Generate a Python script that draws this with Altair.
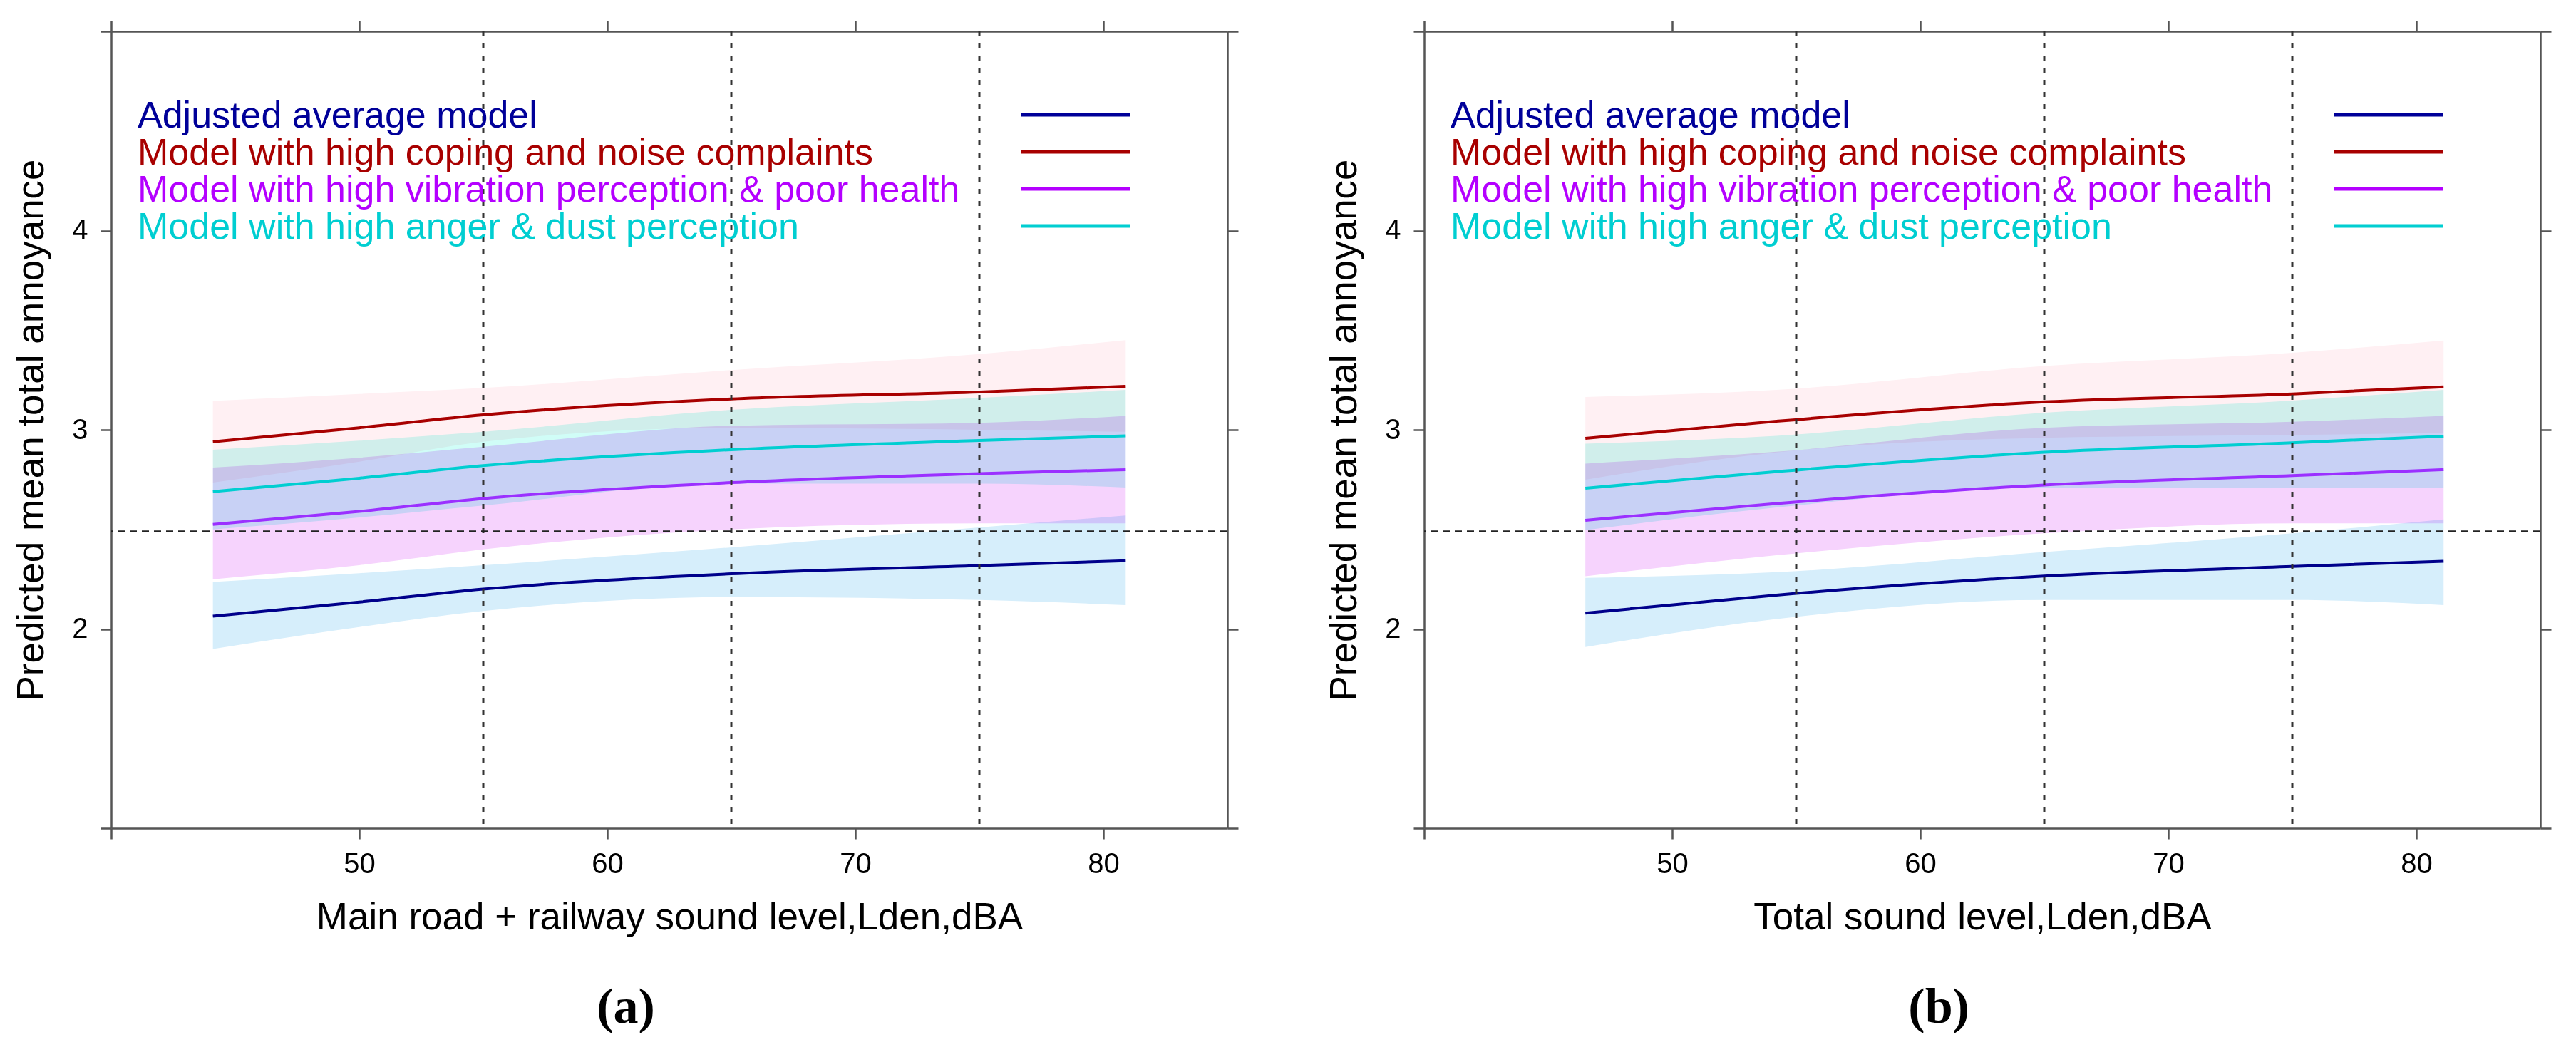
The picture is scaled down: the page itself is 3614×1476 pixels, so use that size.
import altair as alt
import pandas as pd

# ---------------- data ----------------
series = [
    "Adjusted average model",
    "Model with high coping and noise complaints",
    "Model with high vibration perception & poor health",
    "Model with high anger & dust perception",
]

# panel (a): main road + railway sound level
xa = [44.1, 50, 55, 65, 75, 80.9]
adj_fit_a = [2.064, 2.135, 2.20, 2.277, 2.318, 2.343]
adj_lo_a = [1.90, 2.01, 2.09, 2.16, 2.146, 2.12]
adj_hi_a = [2.236, 2.28, 2.32, 2.41, 2.51, 2.57]
cop_fit_a = [2.94, 3.01, 3.075, 3.155, 3.19, 3.218]
cop_lo_a = [2.735, 2.84, 2.94, 3.01, 3.00, 2.99]
cop_hi_a = [3.145, 3.18, 3.21, 3.30, 3.38, 3.45]
vib_fit_a = [2.525, 2.59, 2.655, 2.735, 2.78, 2.80]
vib_lo_a = [2.25, 2.32, 2.40, 2.50, 2.53, 2.53]
vib_hi_a = [2.81, 2.86, 2.915, 3.02, 3.035, 3.07]
ang_fit_a = [2.69, 2.757, 2.82, 2.90, 2.946, 2.97]
ang_lo_a = [2.50, 2.56, 2.62, 2.73, 2.73, 2.71]
ang_hi_a = [2.90, 2.945, 2.99, 3.10, 3.16, 3.20]

# panel (b): total sound level
xb = [46.5, 54.2, 65, 75, 81.1]
adj_fit_b = [2.08, 2.17, 2.266, 2.314, 2.34]
adj_lo_b = [1.91, 2.05, 2.146, 2.146, 2.12]
adj_hi_b = [2.257, 2.285, 2.386, 2.48, 2.55]
cop_fit_b = [2.957, 3.043, 3.14, 3.18, 3.216]
cop_lo_b = [2.75, 2.886, 2.96, 2.974, 2.984]
cop_hi_b = [3.165, 3.20, 3.32, 3.386, 3.448]
vib_fit_b = [2.546, 2.63, 2.723, 2.77, 2.80]
vib_lo_b = [2.265, 2.37, 2.48, 2.53, 2.53]
vib_hi_b = [2.83, 2.89, 3.01, 3.04, 3.07]
ang_fit_b = [2.707, 2.79, 2.887, 2.935, 2.968]
ang_lo_b = [2.496, 2.61, 2.71, 2.71, 2.707]
ang_hi_b = [2.93, 2.97, 3.086, 3.147, 3.20]

ref_vertical = [55, 65, 75]
ref_horizontal = [2.49]

x_ticks = [40, 50, 60, 70, 80]
y_ticks = [1, 2, 3, 4, 5]

# ---------------- styles ----------------
line_colors = ["#00008B", "#A80000", "#9B30FF", "#00CED1"]
text_colors = ["#000099", "#A80000", "#B400FF", "#00CED1"]
band_colors = ["#D6EEFB", "#FFF0F3", "#F6D3FD", "#D0FDF7"]
line_widths = [4, 4, 3.5, 4.5]
FONT = "Liberation Sans"


def panel_df(x, fits, los, his):
    rows = []
    for s, f, lo, hi in zip(series, fits, los, his):
        for xi, fi, li, hv in zip(x, f, lo, hi):
            rows.append({"series": s, "x": xi, "fit": fi, "lo": li, "hi": hv})
    return pd.DataFrame(rows)


df_a = panel_df(xa, [adj_fit_a, cop_fit_a, vib_fit_a, ang_fit_a],
                [adj_lo_a, cop_lo_a, vib_lo_a, ang_lo_a],
                [adj_hi_a, cop_hi_a, vib_hi_a, ang_hi_a])
df_b = panel_df(xb, [adj_fit_b, cop_fit_b, vib_fit_b, ang_fit_b],
                [adj_lo_b, cop_lo_b, vib_lo_b, ang_lo_b],
                [adj_hi_b, cop_hi_b, vib_hi_b, ang_hi_b])

W, H = 1566, 1118


def make_panel(df, xtitle, caption):
    xs = alt.Scale(domain=[40, 85], nice=False, zero=False)
    ys = alt.Scale(domain=[1, 5], nice=False, zero=False)

    bands = alt.Chart(df).mark_area(blend="multiply", interpolate="monotone").encode(
        x=alt.X("x:Q", scale=xs, axis=alt.Axis(
            orient="bottom", values=x_ticks,
            labelExpr="datum.value == 40 ? '' : datum.label",
            labelFlush=True, labelBaseline="alphabetic", labelPadding=47,
            title=xtitle, titleX=W / 2, titleY=141, titleAlign="center",
            titleBaseline="alphabetic")),
        y=alt.Y("lo:Q", scale=ys, axis=alt.Axis(
            orient="left", values=y_ticks,
            labelExpr="(datum.value == 1 || datum.value == 5) ? '' : datum.label",
            labelFlush=True, labelPadding=18,
            title="Predicted mean total annoyance", titleX=-96, titleY=H / 2,
            titleAngle=270, titleAlign="center", titleBaseline="alphabetic")),
        y2="hi:Q",
        color=alt.Color("series:N", scale=alt.Scale(domain=series, range=band_colors), legend=None),
    )

    lines = alt.Chart(df).mark_line(interpolate="monotone").encode(
        x=alt.X("x:Q", scale=xs, axis=alt.Axis(orient="top", values=x_ticks, labels=False, title=None)),
        y=alt.Y("fit:Q", scale=ys, axis=alt.Axis(orient="right", values=y_ticks, labels=False, title=None)),
        color=alt.Color("series:N", scale=alt.Scale(domain=series, range=line_colors), legend=None),
        strokeWidth=alt.StrokeWidth("series:N", scale=alt.Scale(domain=series, range=line_widths), legend=None),
    )

    vr = alt.Chart(pd.DataFrame({"v": ref_vertical})).mark_rule(
        strokeDash=[7, 10], color="#333333", strokeWidth=3
    ).encode(x=alt.X("v:Q", scale=xs, axis=None))

    hr = alt.Chart(pd.DataFrame({"h": ref_horizontal})).mark_rule(
        strokeDash=[10, 7], color="#222222", strokeWidth=2.5
    ).encode(y=alt.Y("h:Q", scale=ys, axis=None))

    leg = pd.DataFrame({"series": series, "row": list(range(len(series)))})
    ltext = alt.Chart(leg).transform_calculate(ly="135 + 52 * datum.row").mark_text(
        align="left", baseline="alphabetic", fontSize=52, font=FONT
    ).encode(
        x=alt.value(37),
        y=alt.Y("ly:Q", scale=None, axis=None),
        text="series:N",
        color=alt.Color("series:N", scale=alt.Scale(domain=series, range=text_colors), legend=None),
    )
    lline = alt.Chart(leg).transform_calculate(ly="117 + 52 * datum.row").mark_rule(
        strokeWidth=5
    ).encode(
        x=alt.value(1276), x2=alt.value(1429),
        y=alt.Y("ly:Q", scale=None, axis=None),
        color=alt.Color("series:N", scale=alt.Scale(domain=series, range=text_colors), legend=None),
    )

    return alt.layer(bands, lines, vr, hr, ltext, lline).resolve_scale(
        color="independent", strokeWidth="independent"
    ).resolve_axis(x="independent", y="independent").properties(
        width=W, height=H,
        title=alt.TitleParams(caption, orient="bottom", anchor="middle", frame="bounds",
                              font="Liberation Serif", fontSize=70, fontWeight="bold",
                              baseline="alphabetic", offset=121, color="black"),
    )


pa = make_panel(df_a, "Main road + railway sound level,Lden,dBA", "(a)")
pb = make_panel(df_b, "Total sound level,Lden,dBA", "(b)")

chart = alt.hconcat(pa, pb, spacing=121).properties(
    padding={"left": 10, "top": 19, "right": 5, "bottom": 5},
    background="white",
).configure_view(stroke=None).configure_axis(
    grid=False, domainColor="#555555", domainWidth=2.5, tickColor="#555555",
    tickWidth=2.5, tickSize=15, labelFont=FONT, labelFontSize=40, labelColor="#000000",
    titleFont=FONT, titleFontSize=53, titleColor="#000000", titleFontWeight="normal",
)

chart.save("out.html", embed_options={"renderer": "svg", "actions": False})
